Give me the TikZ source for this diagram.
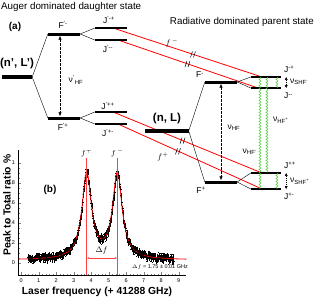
\documentclass[tikz,border=0pt]{standalone}
\usepackage{amsmath}
\usepackage{fontspec}
\setmainfont{Liberation Sans}
\usepackage{pgfplots}
\pgfplotsset{compat=1.18}
\usetikzlibrary{arrows.meta,decorations.pathmorphing,backgrounds}

\definecolor{wavegreen}{RGB}{70,205,40}

\tikzset{
  lvl/.style={rectangle, fill=black, inner sep=0pt, minimum height=#1},
  lvl/.default=2pt,
  lab/.style={font=\fontsize{8.5}{9}\selectfont, inner sep=1pt},
  big/.style={font=\fontsize{11.5}{12}\selectfont\bfseries, inner sep=1pt},
  title/.style={font=\fontsize{9.8}{11}\selectfont, inner sep=0pt},
  tag/.style={font=\fontsize{10}{11}\selectfont\bfseries, inner sep=0pt},
  axlab/.style={font=\fontsize{10.3}{11}\selectfont\bfseries, inner sep=0pt},
  hf/.style={dash pattern=on 2.5pt off 1.5pt, line width=0.6pt,
    {Latex[length=4pt,width=3.5pt]}-{Latex[length=4pt,width=3.5pt]}},
  shf/.style={dash pattern=on 1pt off 1pt, line width=0.4pt,
    {Latex[length=2.8pt,width=3pt]}-{Latex[length=2.8pt,width=3pt]}},
  laser/.style={red, line width=0.8pt},
  wave/.style={wavegreen, line width=0.5pt, decorate,
    decoration={snake, amplitude=1pt, segment length=3pt}},
  fline/.style={red!75, line width=0.5pt}
}

\begin{document}
\begin{tikzpicture}
\begin{scope}[x=1pt,y=-1pt]
  \useasboundingbox (0,0) rectangle (315,298);
  \node[title, anchor=west] (auger) at (1,7) {Auger dominated daughter state};
  \node[title, anchor=east] (radiative) at (314,22) {Radiative dominated parent state};
  \node[tag] (tagA) at (15,27) {(a)};

  % daughter state (n', L')
  \node[lvl=4pt, minimum width=30pt] (nLp) at (17,77) {};
  \node[big] (nLpLab) at (17,64) {(n', L')};
  \node[lvl=3pt, minimum width=32pt] (Fpm) at (64,34) {};
  \node[lvl=3pt, minimum width=32pt] (Fpp) at (64,118) {};
  \node[lvl, minimum width=32pt] (Jpmp) at (111,28) {};
  \node[lvl, minimum width=32pt] (Jpmm) at (111,40) {};
  \node[lvl, minimum width=32pt] (Jppp) at (111,112) {};
  \node[lvl, minimum width=32pt] (Jppm) at (111,124) {};
  \draw (nLp.east) -- (Fpm.west);
  \draw (nLp.east) -- (Fpp.west);
  \draw (Fpm.east) -- (Jpmp.west);
  \draw (Fpm.east) -- (Jpmm.west);
  \draw (Fpp.east) -- (Jppp.west);
  \draw (Fpp.east) -- (Jppm.west);
  \node[lab] (FpmLab) at (63,25) {F\textsuperscript{'-}};
  \node[lab] (FppLab) at (63,127) {F\textsuperscript{'+}};
  \node[lab] (JpmpLab) at (109,20) {J\textsuperscript{'-+}};
  \node[lab] (JpmmLab) at (108,49) {J\textsuperscript{'-{}-}};
  \node[lab] (JpppLab) at (108,106) {J\textsuperscript{'++}};
  \node[lab] (JppmLab) at (108,133) {J\textsuperscript{'+-}};
  \node[lab] (nuHFp) at (76,80) {ν\textsuperscript{'}\textsubscript{HF}};

  % parent state (n, L)
  \node[lvl=4pt, minimum width=44pt] (nL) at (166.5,131) {};
  \node[big] (nLLab) at (167,119) {(n, L)};
  \node[lvl=3pt, minimum width=32pt] (Fm) at (221,82) {};
  \node[lvl=3pt, minimum width=32pt] (Fp) at (221,182) {};
  \node[lvl, minimum width=30pt] (Jmp) at (266,77) {};
  \node[lvl, minimum width=30pt] (Jmm) at (266,88) {};
  \node[lvl, minimum width=30pt] (Jpp) at (266,173) {};
  \node[lvl, minimum width=30pt] (Jpm) at (266,189) {};
  \draw (nL.east) -- (Fm.west);
  \draw (nL.east) -- (Fp.west);
  \draw (Fm.east) -- (Jmp.west);
  \draw (Fm.east) -- (Jmm.west);
  \draw (Fp.east) -- (Jpp.west);
  \draw (Fp.east) -- (Jpm.west);
  \node[lab] (FmLab) at (200,75) {F\textsuperscript{-}};
  \node[lab] (FpLab) at (201,190) {F\textsuperscript{+}};
  \node[lab, anchor=west] (JmpLab) at (283,69) {J\textsuperscript{-+}};
  \node[lab, anchor=west] (JmmLab) at (283,96) {J\textsuperscript{-{}-}};
  \node[lab, anchor=west] (JppLab) at (283,165) {J\textsuperscript{++}};
  \node[lab, anchor=west] (JpmLab) at (283,196) {J\textsuperscript{+-}};
  \node[lab] (nuHF) at (234,128) {ν\textsubscript{HF}};

  % hyperfine transitions
  \draw[wave] ([xshift=-6pt]Jmp.center) -- ([xshift=-6pt]Jpm.center);
  \draw[wave] ([xshift=1pt]Jmp.center) -- ([xshift=1pt]Jpp.center);
  \draw[wave] ([xshift=11pt]Jmp.center) -- ([xshift=11pt]Jmm.center);
  \draw[wave] ([xshift=11pt]Jpp.center) -- ([xshift=11pt]Jpm.center);
  \node[lab] (nuHFplus) at (281,120) {ν\textsubscript{HF\textsuperscript{+}}};
  \node[lab] (nuHFminus) at (250,152) {ν\textsubscript{HF\textsuperscript{-}}};
  \node[lab, anchor=west] (nuSHFm) at (289,82) {ν\textsubscript{SHF\textsuperscript{-}}};
  \node[lab, anchor=west] (nuSHFp) at (289,181) {ν\textsubscript{SHF\textsuperscript{+}}};

  % laser excitation
  \begin{pgfonlayer}{background}
    \draw[laser] ([xshift=2pt]Jpmp.center) -- coordinate[pos=0.54] (brk1) ([xshift=-4pt]Jmp.center);
    \draw[laser] ([xshift=7pt]Jpmm.center) -- coordinate[pos=0.5] (brk2) ([xshift=-8pt]Jmm.center);
    \draw[laser] ([xshift=2pt]Jppp.center) -- coordinate[pos=0.47] (brk3) ([xshift=-4pt]Jpp.center);
    \draw[laser] ([xshift=7pt]Jppm.center) -- coordinate[pos=0.42] (brk4) ([xshift=-4pt]Jpm.center);
  \end{pgfonlayer}
  \foreach \b in {brk1,brk2,brk3,brk4} {
    \draw[line width=0.5pt] ([xshift=-3pt,yshift=-3pt]\b) -- ([xshift=-1pt,yshift=3pt]\b);
    \draw[line width=0.5pt] ([xshift=0pt,yshift=-3pt]\b) -- ([xshift=2pt,yshift=3pt]\b);
  }
  \node[lab] (fminus) at (172,43) {$f^{\,-}$};
  \node[lab] (fplus) at (163,157) {$f^{+}$};

  % spectrum
  \node[tag] (tagB) at (50,190) {(b)};
  \node[axlab] (xlab) at (97,292) {Laser frequency (+ 41288 GHz)};
  \node[axlab, rotate=90] (ylab) at (7,205) {Peak to Total ratio \%};
  \node[font=\fontsize{5.5}{6}\selectfont, anchor=east, inner sep=0pt] (dfval) at (188,267) {$\Delta f$ = 1.75 ± 0.01 GHz};
\end{scope}

% splitting arrows
\draw[hf] ([xshift=-4pt]Fpm.south) -- ([xshift=-4pt]Fpp.north);
\draw[hf] (Fm.south) -- (Fp.north);
\draw[shf] ([xshift=5pt]Jmp.east) -- ([xshift=5pt]Jmm.east);
\draw[shf] ([xshift=5pt]Jpp.east) -- ([xshift=5pt]Jpm.east);

\pgfmathsetseed{11}
\begin{axis}[at={(18.5pt,-275pt)}, anchor=south west, scale only axis,
  width=168pt, height=125pt,
  xmin=-0.15, xmax=9.45, ymin=-0.12, ymax=1.13,
  axis x line*=bottom, axis y line*=left, axis line style={-},
  tick align=inside, major tick length=3pt, minor tick length=1.5pt,
  xtick={0,...,9}, ytick={0,0.2,0.4,0.6,0.8,1},
  minor x tick num=4, minor y tick num=3,
  tick label style={font=\fontsize{5.5}{6}\selectfont},
  xticklabel={\pgfmathprintnumber[assume math mode=true]{\tick}},
  yticklabel={\pgfmathprintnumber[assume math mode=true,fixed]{\tick}},
  declare function={lor(\x)=0.03+0.85/(1+((\x-3.75)/0.33)^2)+0.85/(1+((\x-5.5)/0.33)^2);}]
  \addplot[black, only marks, mark=*, mark size=0.45pt, domain=0.4:8.7, samples=220,
    error bars/.cd, y dir=both, y fixed=0.03, x dir=both, x fixed=0.025,
    error bar style={line width=0.3pt}] {lor(x)+0.025*rand};
  \addplot[red, line width=0.8pt, domain=-0.15:9.45, samples=300] {lor(x)};
  \coordinate (fpBot) at (axis cs:3.75,-0.12);
  \coordinate (fmBot) at (axis cs:5.5,-0.12);
  \coordinate (dA) at (axis cs:3.75,0.05);
  \coordinate (dB) at (axis cs:5.5,0.05);
  \node[lab] (fpLab) at (axis cs:3.75,1.1) {$f^{+}$};
  \node[lab] (fmLab) at (axis cs:5.5,1.1) {$f^{\,-}$};
  \node[lab] (dfLab) at (axis cs:4.6,0.13) {$\Delta f$};
\end{axis}
\draw[fline] (fpBot) -- (fpLab);
\draw[fline] (fmBot) -- (fmLab);
\draw[fline, line width=0.8pt, {Latex[length=2.5pt]}-{Latex[length=2.5pt]}] (dA) -- (dB);
\end{tikzpicture}
\end{document}
